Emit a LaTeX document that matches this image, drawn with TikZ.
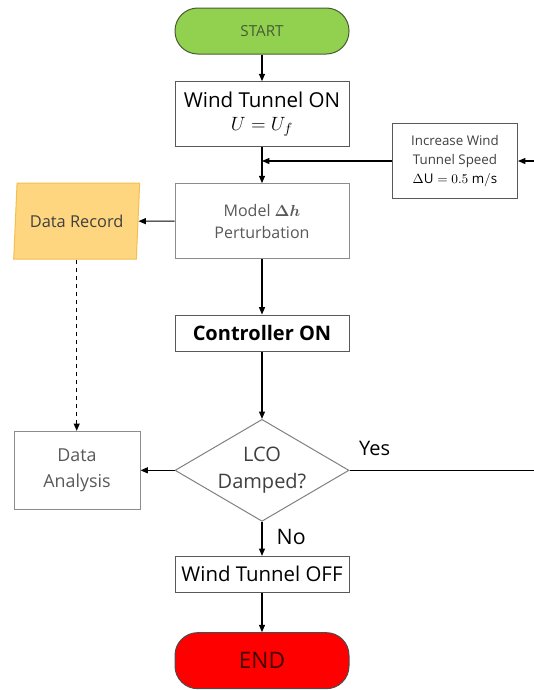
\documentclass[tikz,border=0pt]{standalone}
\usepackage{amsmath,amssymb}
\usepackage{fontspec}
\setmainfont{Open Sans}
\usetikzlibrary{shapes.geometric,arrows.meta,positioning}
\definecolor{startgreen}{RGB}{146,208,80}
\definecolor{startedge}{RGB}{72,92,52}
\definecolor{recfill}{RGB}{255,214,128}
\definecolor{recedge}{RGB}{244,190,80}
\definecolor{softgray}{RGB}{89,89,89}
\definecolor{textgray}{RGB}{64,64,64}
\tikzset{
  terminal/.style={
    rectangle, rounded corners=17pt, draw=startedge, line width=0.75pt,
    minimum width=130.5pt, inner sep=0pt, align=center
  },
  procbox/.style={
    rectangle, draw=softgray, line width=0.75pt, fill=white,
    minimum width=130.5pt, inner sep=0pt, align=center
  },
  softbox/.style={procbox, draw=black!45},
  iobox/.style={
    trapezium, trapezium left angle=75, trapezium right angle=105,
    trapezium stretches body=true, draw=recedge, fill=recfill,
    line width=0.75pt, minimum width=94.5pt, minimum height=57pt,
    inner sep=0pt, align=center
  },
  decision/.style={
    diamond, aspect=1.7, draw=black!50, line width=0.75pt, minimum width=130.5pt,
    minimum height=76.5pt, inner sep=0pt, align=center
  },
  arr/.style={-{Triangle[length=5.5pt,width=4.5pt]}, line width=0.8pt},
  dasharr/.style={arr, dashed},
  lbl/.style={font=\fontsize{15}{18}\selectfont, anchor=base west}
}
\begin{document}
\begin{tikzpicture}[x=0.75pt,y=-0.75pt]
  \useasboundingbox (0,0) rectangle (534,690);

  % main column
  \node[terminal, fill=startgreen, minimum height=34.5pt,
        text=startedge, font=\fontsize{11.4}{14}\selectfont] (start) at (262,31) {START};
  \node[procbox, minimum height=48.75pt, below=20pt of start,
        font=\fontsize{15.4}{16.5}\selectfont] (wton) {Wind Tunnel ON\\[1pt]$U = U_f$};
  \node[softbox, minimum height=56.25pt, below=27pt of wton, text=softgray,
        font=\fontsize{12}{16.5}\selectfont] (model) {Model $\boldsymbol{\Delta h}$\\Perturbation};
  \node[procbox, minimum height=27pt, below=41.5pt of model,
        font=\fontsize{15}{18}\selectfont\bfseries] (ctrl) {Controller ON};
  \node[decision, below=50.5pt of ctrl, text=textgray,
        font=\fontsize{15}{20.5}\selectfont] (dec) {LCO\\Damped?};
  \node[procbox, minimum height=27pt, below=25.5pt of dec,
        font=\fontsize{15.3}{18}\selectfont] (wtoff) {Wind Tunnel OFF};
  \node[terminal, fill=red, draw=black!70, minimum height=42pt, below=29.5pt of wtoff,
        text=black!75!red, font=\fontsize{17}{20}\selectfont] (end) {END};

  % side nodes
  \node[procbox, minimum width=93.75pt, minimum height=56.25pt, text=textgray,
        font=\fontsize{10}{14}\selectfont] (inc) at (455,161)
        {Increase Wind\\Tunnel Speed\\{\color{black}$\Delta\mathrm{U} = 0.5\ \mathrm{m/s}$}};
  \node[iobox, left=27pt of model, text=textgray,
        font=\fontsize{12.3}{15}\selectfont] (rec) {Data Record};
  \node[softbox, minimum width=94.5pt, minimum height=58.5pt, left=25.5pt of dec,
        text=softgray, font=\fontsize{13.4}{19.4}\selectfont] (ana) {Data\\Analysis};

  \path (dec.east) ++(185,0) coordinate (yesend);
  \path (inc.east) ++(16,0) coordinate (incin);

  % connectors
  \draw[arr] (start) -- (wton);
  \draw[arr] (wton) -- (model);
  \draw[arr] (model) -- (ctrl);
  \draw[arr] (ctrl) -- (dec);
  \draw[arr] (dec) -- (wtoff);
  \draw[arr] (wtoff) -- (end);
  \draw[arr] (inc.west) -- (wton.south |- inc.west);
  \draw[arr] (incin) -- (inc.east);
  \draw[arr] (model.west) -- (rec);
  \draw[dasharr] (rec.south) -- (rec.south |- ana.north);
  \draw[arr] (dec.west) -- (ana.east);
  \draw[line width=0.8pt] (dec.east) -- (yesend);

  % labels
  \node[lbl] at ([xshift=3.75pt,yshift=11pt]dec.east) {Yes};
  \node[lbl, font=\fontsize{16}{18}\selectfont] at ([xshift=7.5pt,yshift=-17pt]dec.south) {No};
\end{tikzpicture}
\end{document}
